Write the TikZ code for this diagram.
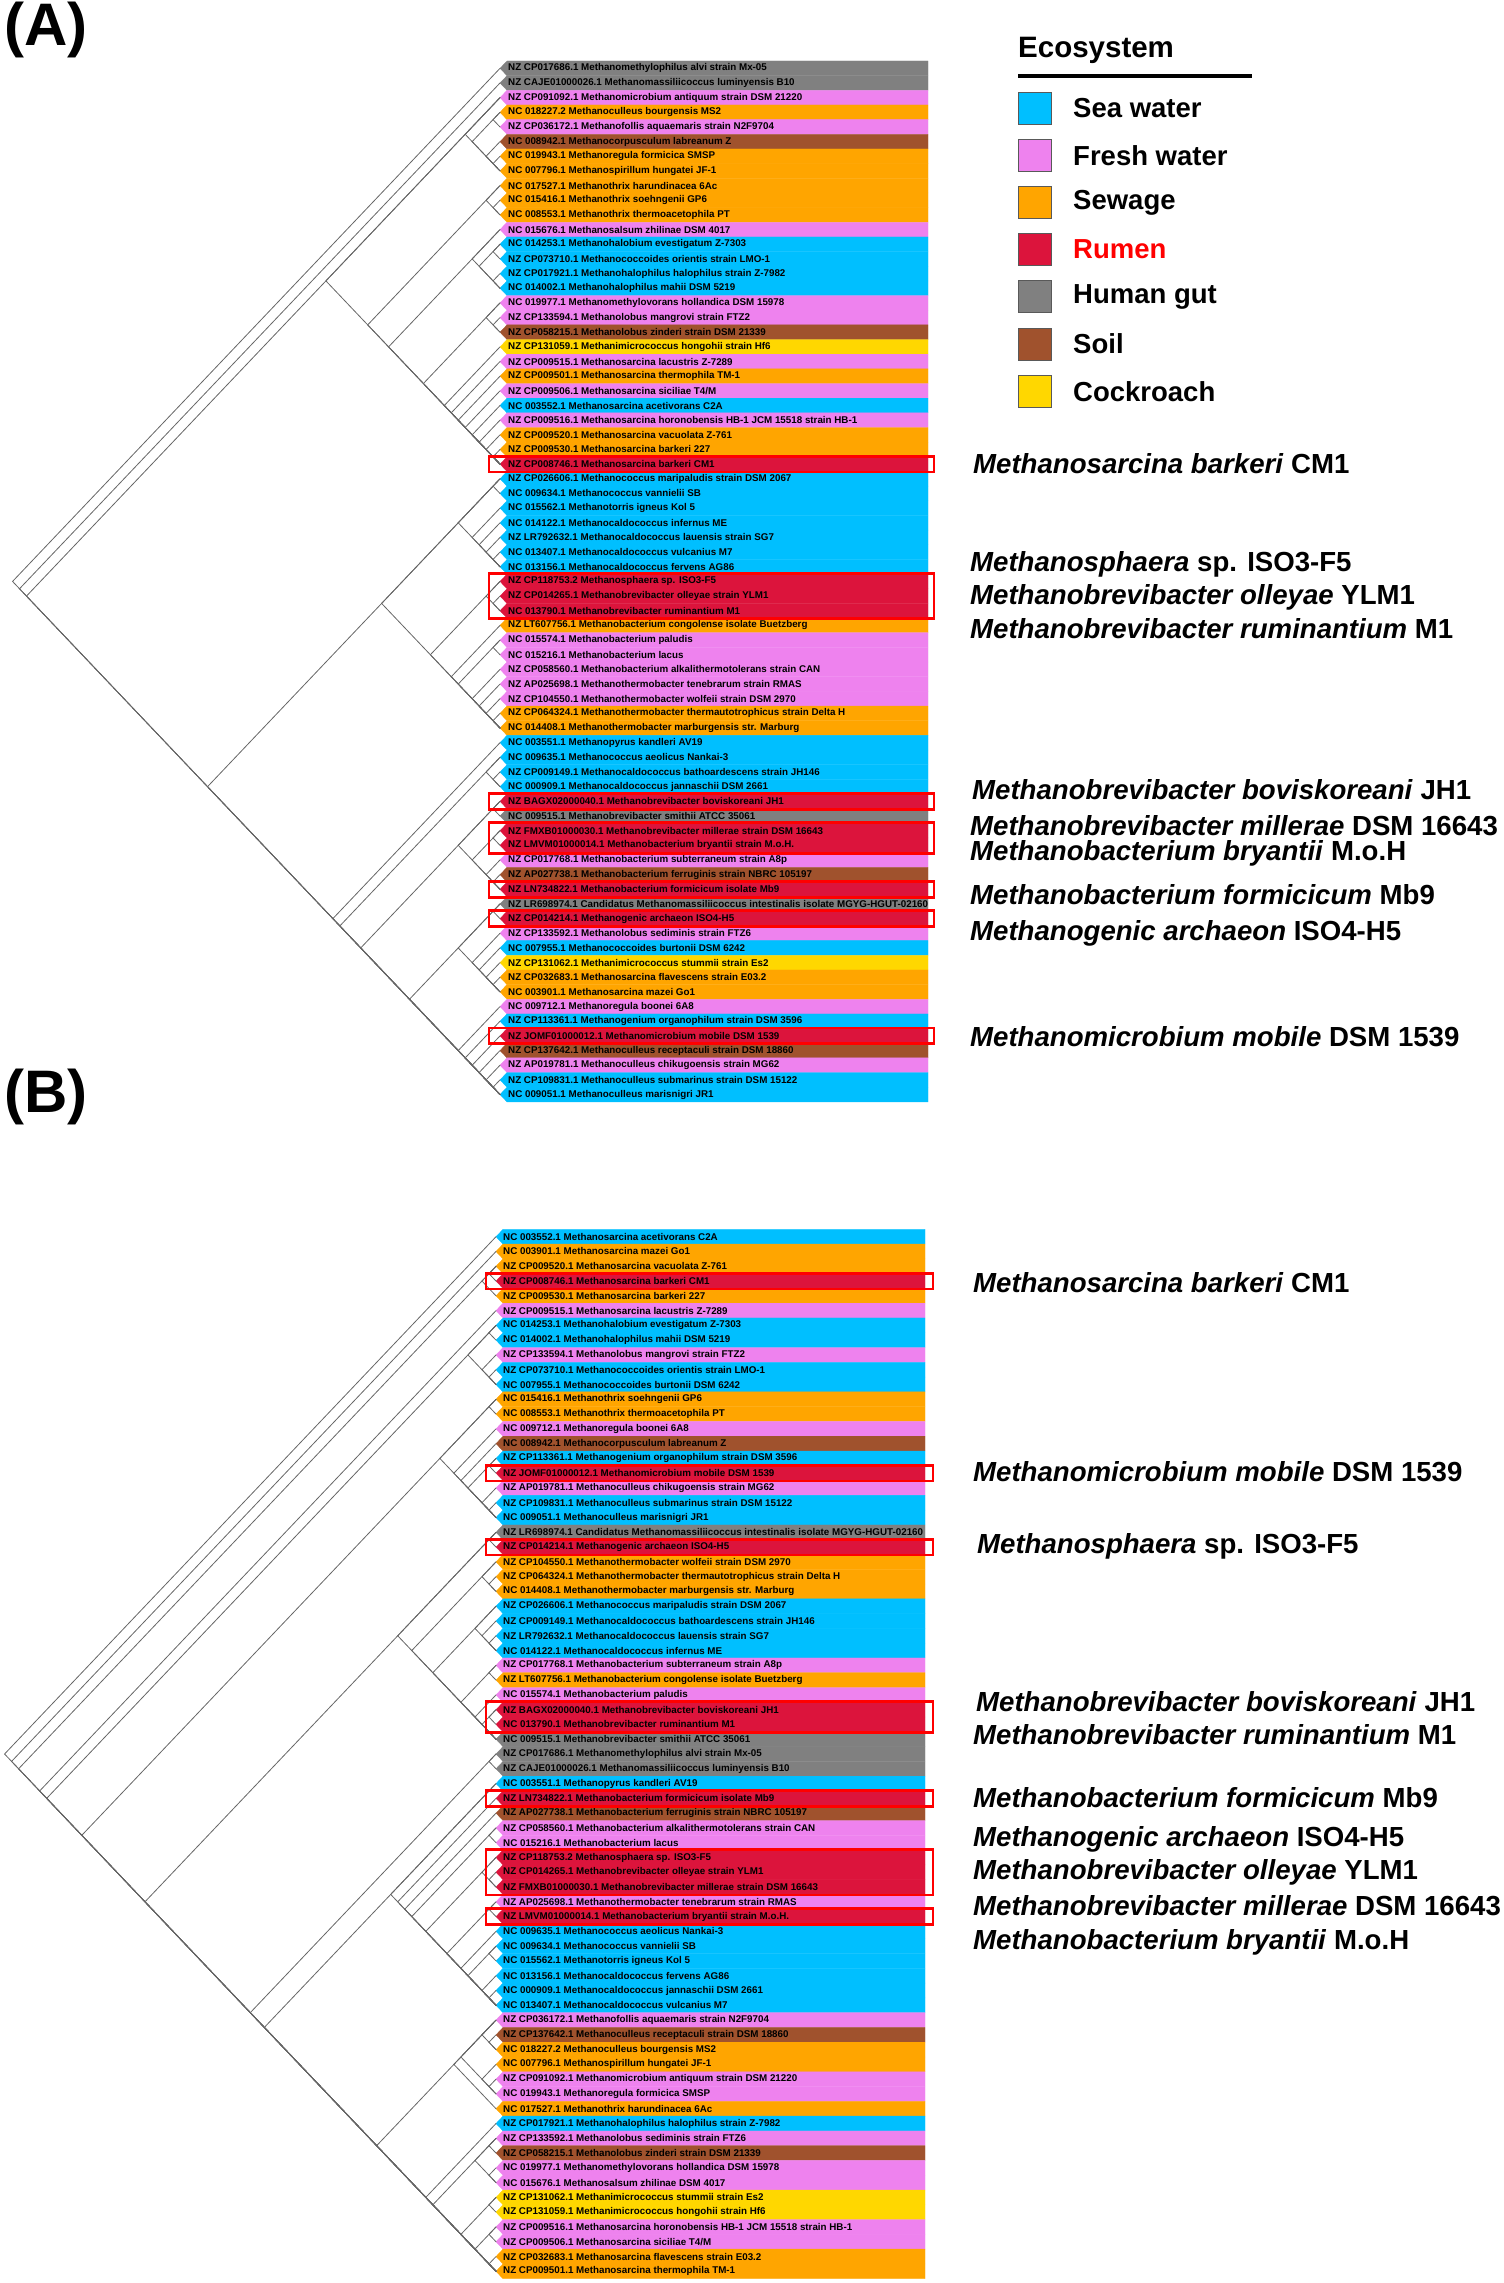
\documentclass[tikz,border=0pt]{standalone}
\usepackage{fontspec}
\setmainfont{Liberation Sans}
\usepackage{xcolor}
\usepackage{tikz}
\usetikzlibrary{calc}
\definecolor{sea}{HTML}{00BFFF}
\definecolor{fresh}{HTML}{EE82EE}
\definecolor{sewage}{HTML}{FFA500}
\definecolor{rumen}{HTML}{DC143C}
\definecolor{gut}{HTML}{808080}
\definecolor{soil}{HTML}{A0522D}
\definecolor{roach}{HTML}{FFD700}
\definecolor{rumentxt}{HTML}{FF0000}
\tikzset{
  branch/.style={draw=black!60, line width=0.8pt, line cap=round},
  hilite/.style={draw=red, line width=2.8pt},
  rowtxt/.style={anchor=west, inner sep=0pt, font=\bfseries\fontsize{9.8}{10}\selectfont},
  callout/.style={anchor=west, inner sep=0pt, font=\bfseries\fontsize{27.6}{28}\selectfont},
  legtxt/.style={anchor=west, inner sep=0pt, font=\bfseries\fontsize{27.5}{28}\selectfont},
  legbox/.style={draw=black!65, line width=1pt},
  panel/.style={anchor=west, inner sep=0pt, font=\bfseries\fontsize{60}{62}\selectfont},
}
% panel geometry (px)
\def\topA{61}   \def\rowA{14.66} \def\tipA{500}
\def\topB{1229.3} \def\rowB{14.78} \def\tipB{496}
\def\slant{0.95}

\begin{document}
\begin{tikzpicture}[x=1pt, y=-1pt]
  \useasboundingbox (0,0) rectangle (1504,2283);

  \node[panel] (pA) at (4,30) {(A)};
  \node[panel] (pB) at (4,1097) {(B)};

  % ---- panel A: tips ----
  \foreach \col/\lbl [count=\i] in {
    gut/{NZ CP017686.1 Methanomethylophilus alvi strain Mx-05},
    gut/{NZ CAJE01000026.1 Methanomassiliicoccus luminyensis B10},
    fresh/{NZ CP091092.1 Methanomicrobium antiquum strain DSM 21220},
    sewage/{NC 018227.2 Methanoculleus bourgensis MS2},
    fresh/{NZ CP036172.1 Methanofollis aquaemaris strain N2F9704},
    soil/{NC 008942.1 Methanocorpusculum labreanum Z},
    sewage/{NC 019943.1 Methanoregula formicica SMSP},
    sewage/{NC 007796.1 Methanospirillum hungatei JF-1},
    sewage/{NC 017527.1 Methanothrix harundinacea 6Ac},
    sewage/{NC 015416.1 Methanothrix soehngenii GP6},
    sewage/{NC 008553.1 Methanothrix thermoacetophila PT},
    fresh/{NC 015676.1 Methanosalsum zhilinae DSM 4017},
    sea/{NC 014253.1 Methanohalobium evestigatum Z-7303},
    sea/{NZ CP073710.1 Methanococcoides orientis strain LMO-1},
    sea/{NZ CP017921.1 Methanohalophilus halophilus strain Z-7982},
    sea/{NC 014002.1 Methanohalophilus mahii DSM 5219},
    fresh/{NC 019977.1 Methanomethylovorans hollandica DSM 15978},
    fresh/{NZ CP133594.1 Methanolobus mangrovi strain FTZ2},
    soil/{NZ CP058215.1 Methanolobus zinderi strain DSM 21339},
    roach/{NZ CP131059.1 Methanimicrococcus hongohii strain Hf6},
    fresh/{NZ CP009515.1 Methanosarcina lacustris Z-7289},
    sewage/{NZ CP009501.1 Methanosarcina thermophila TM-1},
    fresh/{NZ CP009506.1 Methanosarcina siciliae T4/M},
    sea/{NC 003552.1 Methanosarcina acetivorans C2A},
    fresh/{NZ CP009516.1 Methanosarcina horonobensis HB-1 JCM 15518 strain HB-1},
    sewage/{NZ CP009520.1 Methanosarcina vacuolata Z-761},
    sewage/{NZ CP009530.1 Methanosarcina barkeri 227},
    rumen/{NZ CP008746.1 Methanosarcina barkeri CM1},
    sea/{NZ CP026606.1 Methanococcus maripaludis strain DSM 2067},
    sea/{NC 009634.1 Methanococcus vannielii SB},
    sea/{NC 015562.1 Methanotorris igneus Kol 5},
    sea/{NC 014122.1 Methanocaldococcus infernus ME},
    sea/{NZ LR792632.1 Methanocaldococcus lauensis strain SG7},
    sea/{NC 013407.1 Methanocaldococcus vulcanius M7},
    sea/{NC 013156.1 Methanocaldococcus fervens AG86},
    rumen/{NZ CP118753.2 Methanosphaera sp. ISO3-F5},
    rumen/{NZ CP014265.1 Methanobrevibacter olleyae strain YLM1},
    rumen/{NC 013790.1 Methanobrevibacter ruminantium M1},
    sewage/{NZ LT607756.1 Methanobacterium congolense isolate Buetzberg},
    fresh/{NC 015574.1 Methanobacterium paludis},
    fresh/{NC 015216.1 Methanobacterium lacus},
    fresh/{NZ CP058560.1 Methanobacterium alkalithermotolerans strain CAN},
    fresh/{NZ AP025698.1 Methanothermobacter tenebrarum strain RMAS},
    fresh/{NZ CP104550.1 Methanothermobacter wolfeii strain DSM 2970},
    sewage/{NZ CP064324.1 Methanothermobacter thermautotrophicus strain Delta H},
    sewage/{NC 014408.1 Methanothermobacter marburgensis str. Marburg},
    sea/{NC 003551.1 Methanopyrus kandleri AV19},
    sea/{NC 009635.1 Methanococcus aeolicus Nankai-3},
    sea/{NZ CP009149.1 Methanocaldococcus bathoardescens strain JH146},
    sea/{NC 000909.1 Methanocaldococcus jannaschii DSM 2661},
    rumen/{NZ BAGX02000040.1 Methanobrevibacter boviskoreani JH1},
    gut/{NC 009515.1 Methanobrevibacter smithii ATCC 35061},
    rumen/{NZ FMXB01000030.1 Methanobrevibacter millerae strain DSM 16643},
    rumen/{NZ LMVM01000014.1 Methanobacterium bryantii strain M.o.H.},
    fresh/{NZ CP017768.1 Methanobacterium subterraneum strain A8p},
    soil/{NZ AP027738.1 Methanobacterium ferruginis strain NBRC 105197},
    rumen/{NZ LN734822.1 Methanobacterium formicicum isolate Mb9},
    gut/{NZ LR698974.1 Candidatus Methanomassiliicoccus intestinalis isolate MGYG-HGUT-02160},
    rumen/{NZ CP014214.1 Methanogenic archaeon ISO4-H5},
    fresh/{NZ CP133592.1 Methanolobus sediminis strain FTZ6},
    sea/{NC 007955.1 Methanococcoides burtonii DSM 6242},
    roach/{NZ CP131062.1 Methanimicrococcus stummii strain Es2},
    sewage/{NZ CP032683.1 Methanosarcina flavescens strain E03.2},
    sewage/{NC 003901.1 Methanosarcina mazei Go1},
    fresh/{NC 009712.1 Methanoregula boonei 6A8},
    sea/{NZ CP113361.1 Methanogenium organophilum strain DSM 3596},
    rumen/{NZ JOMF01000012.1 Methanomicrobium mobile DSM 1539},
    soil/{NZ CP137642.1 Methanoculleus receptaculi strain DSM 18860},
    fresh/{NZ AP019781.1 Methanoculleus chikugoensis strain MG62},
    sea/{NZ CP109831.1 Methanoculleus submarinus strain DSM 15122},
    sea/{NC 009051.1 Methanoculleus marisnigri JR1}}{
    \pgfmathsetmacro\yt{\topA+(\i-1)*\rowA}
    \pgfmathsetmacro\yb{\yt+\rowA}
    \pgfmathsetmacro\ym{\yt+0.5*\rowA}
    \path[fill=\col, draw=\col, line width=0.3pt]
      (507,\yt) -- (928,\yt) -- (928,\yb) -- (507,\yb) -- (500,\ym) -- cycle;
    \coordinate (tA-\i) at (\tipA,\ym);
    \node[rowtxt] (rA-\i) at (508,\ym) {\lbl};
  }

  % ---- panel A: clades ----
  \foreach \i/\j in {1/71,2/71,3/71,3/28,3/8,4/8,4/5,6/8,7/8,9/28,9/11,10/11,
    12/28,12/16,13/16,13/14,15/16,17/28,17/19,18/19,20/28,21/28,22/28,23/28,
    24/28,25/28,26/28,27/28,29/71,29/46,29/35,29/30,31/35,32/35,33/35,34/35,
    36/46,36/38,37/38,39/46,40/46,40/41,42/46,43/46,44/46,45/46,47/71,48/71,
    48/50,49/50,51/71,51/57,51/52,53/57,53/54,55/57,56/57,58/71,58/64,58/59,
    60/64,61/64,62/64,63/64,65/71,66/71,67/71,68/71,69/71,70/71}{
    \pgfmathsetmacro\yi{\topA+(\i-0.5)*\rowA}
    \pgfmathsetmacro\yj{\topA+(\j-0.5)*\rowA}
    \pgfmathsetmacro\xn{\tipA-(\yj-\yi)/2*\slant}
    \coordinate (nA-\i-\j) at (\xn,{(\yi+\yj)/2});
    \draw[branch] (tA-\i) -- (nA-\i-\j) -- (tA-\j);
  }

  % ---- panel A: rumen boxes ----
  \foreach \i/\j in {28/28,36/38,51/51,53/54,57/57,59/59,67/67}{
    \pgfmathsetmacro\yt{\topA+(\i-1)*\rowA-0.5}
    \pgfmathsetmacro\yb{\topA+\j*\rowA+0.5}
    \draw[hilite] (489,\yt) rectangle (934,\yb);
  }

  \node[callout] (cA1)  at (973,464)  {\textit{Methanosarcina barkeri} CM1};
  \node[callout] (cA2)  at (970,564)  {\textit{Methanosphaera} sp. ISO3-F5};
  \node[callout] (cA3)  at (970,597)  {\textit{Methanobrevibacter olleyae} YLM1};
  \node[callout] (cA4)  at (970,629)  {\textit{Methanobrevibacter ruminantium} M1};
  \node[callout] (cA5)  at (972,790)  {\textit{Methanobrevibacter boviskoreani} JH1};
  \node[callout] (cA6)  at (970,826)  {\textit{Methanobrevibacter millerae} DSM 16643};
  \node[callout] (cA7)  at (970,853)  {\textit{Methanobacterium bryantii} M.o.H};
  \node[callout] (cA8)  at (970,895)  {\textit{Methanobacterium formicicum} Mb9};
  \node[callout] (cA9)  at (970,933)  {\textit{Methanogenic archaeon} ISO4-H5};
  \node[callout] (cA10) at (970,1037) {\textit{Methanomicrobium mobile} DSM 1539};

  % ---- legend ----
  \node[legtxt, font=\bfseries\fontsize{29.5}{30}\selectfont] (legT) at (1018,50) {Ecosystem};
  \draw[line width=3pt] (1018,76) -- (1252,76);
  \foreach \col/\lbl/\tc [count=\k] in {sea/Sea water/black, fresh/Fresh water/black,
    sewage/Sewage/black, rumen/Rumen/rumentxt, gut/Human gut/black,
    soil/Soil/black, roach/Cockroach/black}{
    \pgfmathsetmacro\yk{92+(\k-1)*47.2}
    \draw[legbox, fill=\col] (1018,\yk) rectangle ++(33,32);
    \node[legtxt, text=\tc] (leg-\k) at (1073,\yk+16) {\lbl};
  }

  % ---- panel B: tips ----
  \foreach \col/\lbl [count=\i] in {
    sea/{NC 003552.1 Methanosarcina acetivorans C2A},
    sewage/{NC 003901.1 Methanosarcina mazei Go1},
    sewage/{NZ CP009520.1 Methanosarcina vacuolata Z-761},
    rumen/{NZ CP008746.1 Methanosarcina barkeri CM1},
    sewage/{NZ CP009530.1 Methanosarcina barkeri 227},
    fresh/{NZ CP009515.1 Methanosarcina lacustris Z-7289},
    sea/{NC 014253.1 Methanohalobium evestigatum Z-7303},
    sea/{NC 014002.1 Methanohalophilus mahii DSM 5219},
    fresh/{NZ CP133594.1 Methanolobus mangrovi strain FTZ2},
    sea/{NZ CP073710.1 Methanococcoides orientis strain LMO-1},
    sea/{NC 007955.1 Methanococcoides burtonii DSM 6242},
    sewage/{NC 015416.1 Methanothrix soehngenii GP6},
    sewage/{NC 008553.1 Methanothrix thermoacetophila PT},
    fresh/{NC 009712.1 Methanoregula boonei 6A8},
    soil/{NC 008942.1 Methanocorpusculum labreanum Z},
    sea/{NZ CP113361.1 Methanogenium organophilum strain DSM 3596},
    rumen/{NZ JOMF01000012.1 Methanomicrobium mobile DSM 1539},
    fresh/{NZ AP019781.1 Methanoculleus chikugoensis strain MG62},
    sea/{NZ CP109831.1 Methanoculleus submarinus strain DSM 15122},
    sea/{NC 009051.1 Methanoculleus marisnigri JR1},
    gut/{NZ LR698974.1 Candidatus Methanomassiliicoccus intestinalis isolate MGYG-HGUT-02160},
    rumen/{NZ CP014214.1 Methanogenic archaeon ISO4-H5},
    sewage/{NZ CP104550.1 Methanothermobacter wolfeii strain DSM 2970},
    sewage/{NZ CP064324.1 Methanothermobacter thermautotrophicus strain Delta H},
    sewage/{NC 014408.1 Methanothermobacter marburgensis str. Marburg},
    sea/{NZ CP026606.1 Methanococcus maripaludis strain DSM 2067},
    sea/{NZ CP009149.1 Methanocaldococcus bathoardescens strain JH146},
    sea/{NZ LR792632.1 Methanocaldococcus lauensis strain SG7},
    sea/{NC 014122.1 Methanocaldococcus infernus ME},
    fresh/{NZ CP017768.1 Methanobacterium subterraneum strain A8p},
    sewage/{NZ LT607756.1 Methanobacterium congolense isolate Buetzberg},
    fresh/{NC 015574.1 Methanobacterium paludis},
    rumen/{NZ BAGX02000040.1 Methanobrevibacter boviskoreani JH1},
    rumen/{NC 013790.1 Methanobrevibacter ruminantium M1},
    gut/{NC 009515.1 Methanobrevibacter smithii ATCC 35061},
    gut/{NZ CP017686.1 Methanomethylophilus alvi strain Mx-05},
    gut/{NZ CAJE01000026.1 Methanomassiliicoccus luminyensis B10},
    sea/{NC 003551.1 Methanopyrus kandleri AV19},
    rumen/{NZ LN734822.1 Methanobacterium formicicum isolate Mb9},
    soil/{NZ AP027738.1 Methanobacterium ferruginis strain NBRC 105197},
    fresh/{NZ CP058560.1 Methanobacterium alkalithermotolerans strain CAN},
    fresh/{NC 015216.1 Methanobacterium lacus},
    rumen/{NZ CP118753.2 Methanosphaera sp. ISO3-F5},
    rumen/{NZ CP014265.1 Methanobrevibacter olleyae strain YLM1},
    rumen/{NZ FMXB01000030.1 Methanobrevibacter millerae strain DSM 16643},
    fresh/{NZ AP025698.1 Methanothermobacter tenebrarum strain RMAS},
    rumen/{NZ LMVM01000014.1 Methanobacterium bryantii strain M.o.H.},
    sea/{NC 009635.1 Methanococcus aeolicus Nankai-3},
    sea/{NC 009634.1 Methanococcus vannielii SB},
    sea/{NC 015562.1 Methanotorris igneus Kol 5},
    sea/{NC 013156.1 Methanocaldococcus fervens AG86},
    sea/{NC 000909.1 Methanocaldococcus jannaschii DSM 2661},
    sea/{NC 013407.1 Methanocaldococcus vulcanius M7},
    fresh/{NZ CP036172.1 Methanofollis aquaemaris strain N2F9704},
    soil/{NZ CP137642.1 Methanoculleus receptaculi strain DSM 18860},
    sewage/{NC 018227.2 Methanoculleus bourgensis MS2},
    sewage/{NC 007796.1 Methanospirillum hungatei JF-1},
    fresh/{NZ CP091092.1 Methanomicrobium antiquum strain DSM 21220},
    fresh/{NC 019943.1 Methanoregula formicica SMSP},
    sewage/{NC 017527.1 Methanothrix harundinacea 6Ac},
    sea/{NZ CP017921.1 Methanohalophilus halophilus strain Z-7982},
    fresh/{NZ CP133592.1 Methanolobus sediminis strain FTZ6},
    soil/{NZ CP058215.1 Methanolobus zinderi strain DSM 21339},
    fresh/{NC 019977.1 Methanomethylovorans hollandica DSM 15978},
    fresh/{NC 015676.1 Methanosalsum zhilinae DSM 4017},
    roach/{NZ CP131062.1 Methanimicrococcus stummii strain Es2},
    roach/{NZ CP131059.1 Methanimicrococcus hongohii strain Hf6},
    fresh/{NZ CP009516.1 Methanosarcina horonobensis HB-1 JCM 15518 strain HB-1},
    fresh/{NZ CP009506.1 Methanosarcina siciliae T4/M},
    sewage/{NZ CP032683.1 Methanosarcina flavescens strain E03.2},
    sewage/{NZ CP009501.1 Methanosarcina thermophila TM-1}}{
    \pgfmathsetmacro\yt{\topB+(\i-1)*\rowB}
    \pgfmathsetmacro\yb{\yt+\rowB}
    \pgfmathsetmacro\ym{\yt+0.5*\rowB}
    \path[fill=\col, draw=\col, line width=0.3pt]
      (503,\yt) -- (925,\yt) -- (925,\yb) -- (503,\yb) -- (496,\ym) -- cycle;
    \coordinate (tB-\i) at (\tipB,\ym);
    \node[rowtxt] (rB-\i) at (503,\ym) {\lbl};
  }

  % ---- panel B: clades ----
  \foreach \i/\j in {1/71,2/71,3/71,3/5,3/4,6/71,7/71,7/11,7/8,9/11,10/11,
    12/71,12/20,12/13,14/20,15/20,16/20,16/17,18/20,19/20,21/71,21/35,21/22,
    23/35,23/25,24/25,26/35,26/29,27/29,28/29,30/35,30/31,32/35,33/35,33/34,
    36/71,36/37,38/71,38/53,39/53,40/53,41/53,41/42,43/53,43/45,44/45,46/53,
    46/47,48/53,49/53,49/50,51/53,52/53,54/71,54/60,54/59,54/56,55/56,57/59,
    58/59,61/71,62/71,62/65,62/63,64/65,66/71,66/67,68/71,68/69,70/71}{
    \pgfmathsetmacro\yi{\topB+(\i-0.5)*\rowB}
    \pgfmathsetmacro\yj{\topB+(\j-0.5)*\rowB}
    \pgfmathsetmacro\xn{\tipB-(\yj-\yi)/2*\slant}
    \coordinate (nB-\i-\j) at (\xn,{(\yi+\yj)/2});
    \draw[branch] (tB-\i) -- (nB-\i-\j) -- (tB-\j);
  }

  % ---- panel B: rumen boxes ----
  \foreach \i/\j in {4/4,17/17,22/22,33/34,39/39,43/45,47/47}{
    \pgfmathsetmacro\yt{\topB+(\i-1)*\rowB-0.5}
    \pgfmathsetmacro\yb{\topB+\j*\rowB+0.5}
    \draw[hilite] (486,\yt) rectangle (933,\yb);
  }

  \node[callout] (cB1)  at (973,1283) {\textit{Methanosarcina barkeri} CM1};
  \node[callout] (cB2)  at (973,1472) {\textit{Methanomicrobium mobile} DSM 1539};
  \node[callout] (cB3)  at (977,1546) {\textit{Methanosphaera} sp. ISO3-F5};
  \node[callout] (cB4)  at (976,1702) {\textit{Methanobrevibacter boviskoreani} JH1};
  \node[callout] (cB5)  at (973,1735) {\textit{Methanobrevibacter ruminantium} M1};
  \node[callout] (cB6)  at (973,1798) {\textit{Methanobacterium formicicum} Mb9};
  \node[callout] (cB7)  at (973,1839) {\textit{Methanogenic archaeon} ISO4-H5};
  \node[callout] (cB8)  at (973,1872) {\textit{Methanobrevibacter olleyae} YLM1};
  \node[callout] (cB9)  at (973,1906) {\textit{Methanobrevibacter millerae} DSM 16643};
  \node[callout] (cB10) at (973,1942) {\textit{Methanobacterium bryantii} M.o.H};
\end{tikzpicture}
\end{document}
